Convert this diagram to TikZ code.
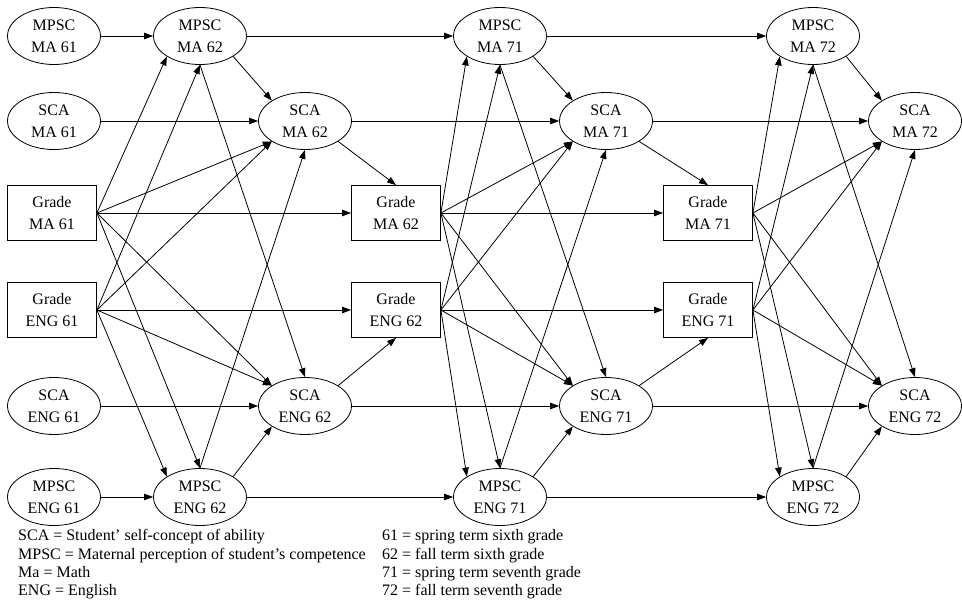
\documentclass[tikz,border=0pt]{standalone}
\usepackage{fontspec}
\setmainfont{Liberation Serif}
\usetikzlibrary{arrows.meta,shapes.geometric}
\tikzset{
  ov/.style={ellipse, draw, line width=0.8pt, minimum width=93pt, minimum height=57pt, inner sep=0pt, align=center, font=\fontsize{16}{22}\selectfont},
  bx/.style={rectangle, draw, line width=0.8pt, minimum width=89pt, minimum height=55pt, inner sep=0pt, align=center, font=\fontsize{16}{22}\selectfont},
  ar/.style={-{Triangle[length=9pt,width=6.5pt]}, line width=0.8pt},
  lg/.style={anchor=base west, inner sep=0pt, font=\fontsize{16}{19}\selectfont}
}
\begin{document}
\begin{tikzpicture}[x=1pt,y=-1pt]
\useasboundingbox (0,0) rectangle (962,600);
% column 61
\node[ov] (mma61) at (54,36) {MPSC\\MA 61};
\node[ov] (sma61) at (54,121) {SCA\\MA 61};
\node[bx] (gma61) at (52,213) {Grade\\MA 61};
\node[bx] (geng61) at (52,310) {Grade\\ENG 61};
\node[ov] (seng61) at (54,406) {SCA\\ENG 61};
\node[ov] (meng61) at (54,497) {MPSC\\ENG 61};
% column 62
\node[ov] (mma62) at (200,36) {MPSC\\MA 62};
\node[ov] (sma62) at (305,121) {SCA\\MA 62};
\node[bx] (gma62) at (396,213) {Grade\\MA 62};
\node[bx] (geng62) at (396,310) {Grade\\ENG 62};
\node[ov] (seng62) at (305,406) {SCA\\ENG 62};
\node[ov] (meng62) at (200,497) {MPSC\\ENG 62};
% column 71
\node[ov] (mma71) at (500,36) {MPSC\\MA 71};
\node[ov] (sma71) at (606,121) {SCA\\MA 71};
\node[bx] (gma71) at (708,213) {Grade\\MA 71};
\node[bx] (geng71) at (708,310) {Grade\\ENG 71};
\node[ov] (seng71) at (606,406) {SCA\\ENG 71};
\node[ov] (meng71) at (500,497) {MPSC\\ENG 71};
% column 72
\node[ov] (mma72) at (813,36) {MPSC\\MA 72};
\node[ov] (sma72) at (915,121) {SCA\\MA 72};
\node[ov] (seng72) at (915,406) {SCA\\ENG 72};
\node[ov] (meng72) at (813,497) {MPSC\\ENG 72};
% autoregressive paths
\foreach \s/\t in {61/62,62/71,71/72}{
  \draw[ar] (mma\s) -- (mma\t);
  \draw[ar] (sma\s) -- (sma\t);
  \draw[ar] (seng\s) -- (seng\t);
  \draw[ar] (meng\s) -- (meng\t);
  \draw[ar] (gma\s.east) -- (mma\t.south west);
  \draw[ar] (gma\s.east) -- (sma\t.south west);
  \draw[ar] (gma\s.east) -- (seng\t.north west);
  \draw[ar] (gma\s.east) -- (meng\t.north);
  \draw[ar] (geng\s.east) -- (mma\t.south);
  \draw[ar] (geng\s.east) -- (sma\t.south west);
  \draw[ar] (geng\s.east) -- (seng\t.north west);
  \draw[ar] (geng\s.east) -- (meng\t.north west);
}
\foreach \s/\t in {61/62,62/71}{
  \draw[ar] (gma\s) -- (gma\t);
  \draw[ar] (geng\s) -- (geng\t);
}
\foreach \t in {62,71,72}{
  \draw[ar] (mma\t.south east) -- (sma\t.north west);
  \draw[ar] (mma\t.south) -- (seng\t.north);
  \draw[ar] (meng\t.north east) -- (seng\t.south west);
  \draw[ar] (meng\t.north) -- (sma\t.south);
}
\foreach \t in {62,71}{
  \draw[ar] (sma\t.south east) -- (gma\t.north);
  \draw[ar] (seng\t.north east) -- (geng\t.south);
}
% legend
\node[lg] (l1) at (18,540.5) {SCA = Student’ self-concept of ability};
\node[lg] (l2) at (18,559) {MPSC = Maternal perception of student’s competence};
\node[lg] (l3) at (18,577) {Ma = Math};
\node[lg] (l4) at (18,595.5) {ENG = English};
\node[lg] (r1) at (382,540.5) {61 = spring term sixth grade};
\node[lg] (r2) at (382,559) {62 = fall term sixth grade};
\node[lg] (r3) at (382,577) {71 = spring term seventh grade};
\node[lg] (r4) at (382,595.5) {72 = fall term seventh grade};
\end{tikzpicture}
\end{document}
